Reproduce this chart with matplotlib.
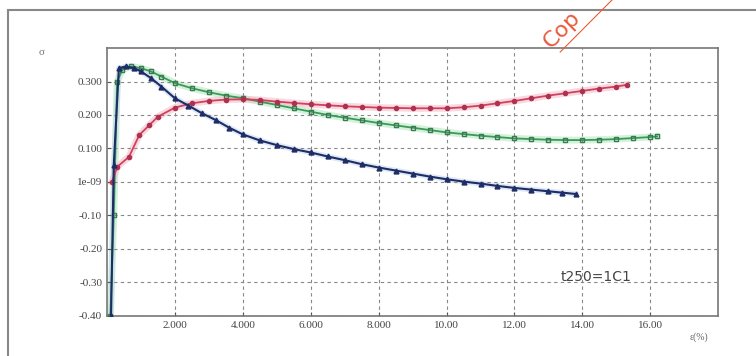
import matplotlib
matplotlib.use("Agg")
import matplotlib.pyplot as plt
from matplotlib.lines import Line2D

plt.rcParams['font.family'] = ['Liberation Serif', 'DejaVu Serif']

blue_x = [0.12, 0.2, 0.35, 0.55, 0.8, 1.0, 1.3, 1.6, 2.0, 2.4, 2.8, 3.2, 3.6, 4.0, 4.5, 5.0, 5.5,
          6.0, 6.5, 7.0, 7.5, 8.0, 8.5, 9.0, 9.5, 10.0, 10.5, 11.0, 11.5, 12.0, 12.5, 13.0, 13.4, 13.8]
blue_y = [-0.40, 0.05, 0.34, 0.345, 0.34, 0.33, 0.31, 0.285, 0.25, 0.228, 0.205, 0.185, 0.162, 0.142,
          0.124, 0.11, 0.098, 0.088, 0.076, 0.065, 0.053, 0.043, 0.034, 0.025, 0.016, 0.008, 0.001,
          -0.005, -0.012, -0.018, -0.023, -0.028, -0.032, -0.036]

green_x = [0.1, 0.2, 0.3, 0.45, 0.7, 1.0, 1.3, 1.6, 2.0, 2.5, 3.0, 3.5, 4.0, 4.5, 5.0, 5.5, 6.0, 6.5,
           7.0, 7.5, 8.0, 8.5, 9.0, 9.5, 10.0, 10.5, 11.0, 11.5, 12.0, 12.5, 13.0, 13.5, 14.0, 14.5,
           15.0, 15.5, 16.0, 16.2]
green_y = [-0.40, -0.10, 0.30, 0.335, 0.345, 0.34, 0.33, 0.315, 0.295, 0.28, 0.268, 0.258, 0.25,
           0.24, 0.23, 0.22, 0.21, 0.2, 0.192, 0.184, 0.176, 0.169, 0.162, 0.155, 0.148, 0.143,
           0.138, 0.134, 0.13, 0.128, 0.126, 0.125, 0.125, 0.126, 0.128, 0.131, 0.134, 0.136]

red_x = [0.15, 0.3, 0.65, 0.95, 1.25, 1.5, 2.0, 2.5, 3.0, 3.5, 4.0, 4.5, 5.0, 5.5, 6.0, 6.5,
         7.0, 7.5, 8.0, 8.5, 9.0, 9.5, 10.0, 10.5, 11.0, 11.5, 12.0, 12.5, 13.0, 13.5, 14.0, 14.5,
         15.0, 15.3]
red_y = [0.0, 0.045, 0.075, 0.14, 0.17, 0.195, 0.222, 0.235, 0.242, 0.246, 0.247, 0.245, 0.24,
         0.236, 0.232, 0.229, 0.226, 0.224, 0.222, 0.221, 0.22, 0.22, 0.22, 0.223, 0.228, 0.235,
         0.242, 0.25, 0.258, 0.265, 0.272, 0.279, 0.285, 0.29]

xticks = [2, 4, 6, 8, 10, 12, 14, 16]
xticklabels = ["2.000", "4.000", "6.000", "8.000", "10.00", "12.00", "14.00", "16.00"]
yticks = [0.3, 0.2, 0.1, 0.0, -0.1, -0.2, -0.3, -0.4]
yticklabels = ["0.300", "0.200", "0.100", "1e-09", "-0.10", "-0.20", "-0.30", "-0.40"]

fig = plt.figure(figsize=(7.56, 3.56), dpi=100)
ax = fig.add_axes([0.1415, 0.113, 0.8085, 0.752])

ax.plot(green_x, green_y, color='#b8e8c4', lw=5, alpha=0.6, zorder=1)
ax.plot(red_x, red_y, color='#f4c0cc', lw=5, alpha=0.6, zorder=1)
ax.plot(blue_x, blue_y, color='#c0d4ee', lw=4, alpha=0.5, zorder=1)

ax.plot(green_x, green_y, color='#3a9a58', lw=1.3, marker='s', ms=3.5, mfc='none', mec='#3a7a50', zorder=3)
ax.plot(red_x, red_y, color='#d2405e', lw=1.3, marker='o', ms=3, mfc='#b03050', mec='#b03050', zorder=3)
ax.plot(blue_x, blue_y, color='#1e2d66', lw=1.5, marker='^', ms=3.5, mfc='#1e2d66', mec='#1e2d66', zorder=4)

ax.set_xlim(0, 18)
ax.set_ylim(-0.4, 0.4)
ax.set_xticks(xticks)
ax.set_xticklabels(xticklabels, fontsize=8, color='#444')
ax.set_yticks(yticks)
ax.set_yticklabels(yticklabels, fontsize=8, color='#444')
ax.tick_params(length=3, color='#555', direction='in')
ax.grid(True, color='#888', linestyle=(0, (3, 3)), lw=0.8)
for s in ax.spines.values():
    s.set_color('#777')
    s.set_linewidth(1.2)

ax.text(14.4, -0.285, "t250=1C1", fontsize=10, color='#444', ha='center', va='center',
        family=['DejaVu Sans'])
fig.text(0.925, 0.045, "ε(%)", fontsize=7, color='#666', ha='center')
fig.text(0.055, 0.845, "σ", fontsize=8, color='#777', ha='center')

fig.add_artist(Line2D([0.013, 1.0], [0.972, 0.972], transform=fig.transFigure, color='#888', lw=1.5))
fig.add_artist(Line2D([0.011, 0.011], [0.0, 0.972], transform=fig.transFigure, color='#888', lw=1.5))

fig.text(0.733, 0.855, "Cop", fontsize=16, color='#e85a3c', rotation=45,
         ha='left', va='bottom', rotation_mode='anchor', family=['DejaVu Sans'], zorder=10)
fig.add_artist(Line2D([0.741, 0.8095], [0.854, 1.0], transform=fig.transFigure, color='#e85a3c', lw=0.8))

fig.savefig("out.png", dpi=100)
